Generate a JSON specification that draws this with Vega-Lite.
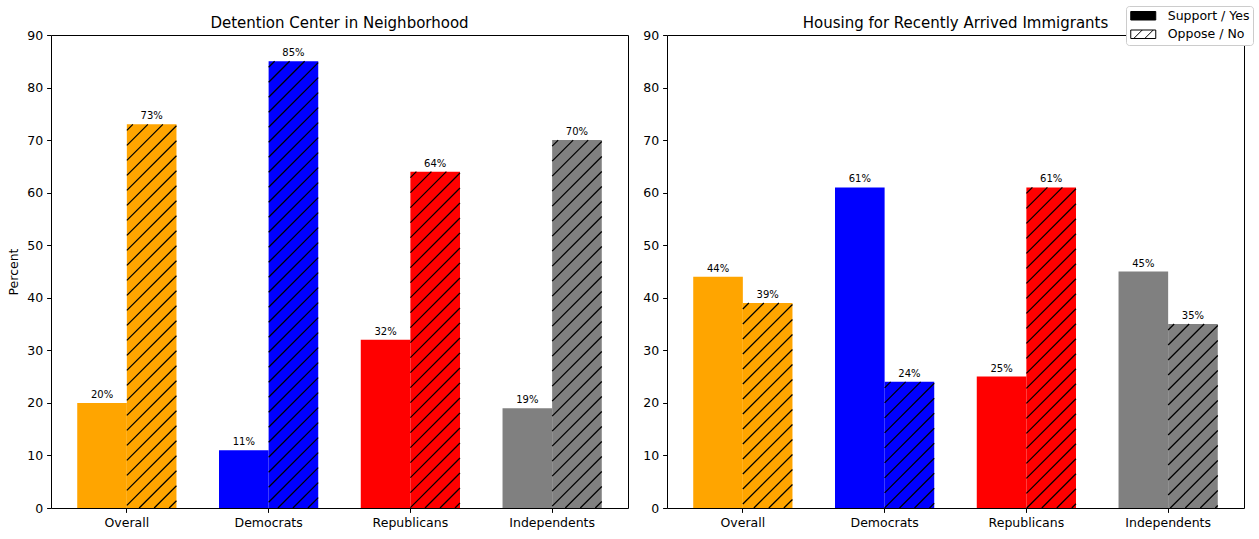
{
  "$schema": "https://vega.github.io/schema/vega-lite/v6.json",
  "autosize": {"type": "pad"},
  "padding": {"left": 7, "top": 5, "right": 6, "bottom": 9},
  "bounds": "flush",
  "spacing": 39,
  "data": {"values": [
    {"panel": "Detention Center in Neighborhood", "group": "Overall", "response": "Support / Yes", "value": 20},
    {"panel": "Detention Center in Neighborhood", "group": "Overall", "response": "Oppose / No", "value": 73},
    {"panel": "Detention Center in Neighborhood", "group": "Democrats", "response": "Support / Yes", "value": 11},
    {"panel": "Detention Center in Neighborhood", "group": "Democrats", "response": "Oppose / No", "value": 85},
    {"panel": "Detention Center in Neighborhood", "group": "Republicans", "response": "Support / Yes", "value": 32},
    {"panel": "Detention Center in Neighborhood", "group": "Republicans", "response": "Oppose / No", "value": 64},
    {"panel": "Detention Center in Neighborhood", "group": "Independents", "response": "Support / Yes", "value": 19},
    {"panel": "Detention Center in Neighborhood", "group": "Independents", "response": "Oppose / No", "value": 70},
    {"panel": "Housing for Recently Arrived Immigrants", "group": "Overall", "response": "Support / Yes", "value": 44},
    {"panel": "Housing for Recently Arrived Immigrants", "group": "Overall", "response": "Oppose / No", "value": 39},
    {"panel": "Housing for Recently Arrived Immigrants", "group": "Democrats", "response": "Support / Yes", "value": 61},
    {"panel": "Housing for Recently Arrived Immigrants", "group": "Democrats", "response": "Oppose / No", "value": 24},
    {"panel": "Housing for Recently Arrived Immigrants", "group": "Republicans", "response": "Support / Yes", "value": 25},
    {"panel": "Housing for Recently Arrived Immigrants", "group": "Republicans", "response": "Oppose / No", "value": 61},
    {"panel": "Housing for Recently Arrived Immigrants", "group": "Independents", "response": "Support / Yes", "value": 45},
    {"panel": "Housing for Recently Arrived Immigrants", "group": "Independents", "response": "Oppose / No", "value": 35}
  ]},
  "hconcat": [
    {
      "width": 577,
      "height": 473,
      "title": {"text": "Detention Center in Neighborhood"},
      "transform": [
        {"filter": "datum.panel === 'Detention Center in Neighborhood'"},
        {"calculate": "datum.value + '%'", "as": "label"}
      ],
      "encoding": {
        "x": {"field": "group", "type": "nominal", "sort": ["Overall", "Democrats", "Republicans", "Independents"], "scale": {"type": "band", "paddingInner": 0.3, "paddingOuter": 0.185}, "axis": {"title": null, "labelAngle": 0}},
        "xOffset": {"field": "response", "type": "nominal", "sort": ["Support / Yes", "Oppose / No"], "scale": {"paddingInner": 0, "paddingOuter": 0}},
        "y": {"field": "value", "type": "quantitative", "scale": {"domain": [0, 90], "nice": false}, "axis": {"title": "Percent", "values": [0, 10, 20, 30, 40, 50, 60, 70, 80, 90]}}
      },
      "layer": [
        {
          "mark": {"type": "bar"},
          "encoding": {
            "color": {"field": "group", "type": "nominal", "scale": {"domain": ["Overall", "Democrats", "Republicans", "Independents"], "range": ["#FFA500", "#0000FF", "#FF0000", "#808080"]}, "legend": null}
          }
        },
        {
          "transform": [{"filter": "datum.response === 'Oppose / No' && datum.group === 'Overall'"}],
          "mark": {"type": "point", "filled": false, "stroke": "black", "strokeWidth": 1.25, "opacity": 1, "size": 4, "shape": "M-24.8,6l6,-6M-24.8,21l21,-21M-24.8,36l36,-36M-24.8,51l49.6,-49.6M-24.8,66l49.6,-49.6M-24.8,81l49.6,-49.6M-24.8,96l49.6,-49.6M-24.8,111l49.6,-49.6M-24.8,126l49.6,-49.6M-24.8,141l49.6,-49.6M-24.8,156l49.6,-49.6M-24.8,171l49.6,-49.6M-24.8,186l49.6,-49.6M-24.8,201l49.6,-49.6M-24.8,216l49.6,-49.6M-24.8,231l49.6,-49.6M-24.8,246l49.6,-49.6M-24.8,261l49.6,-49.6M-24.8,276l49.6,-49.6M-24.8,291l49.6,-49.6M-24.8,306l49.6,-49.6M-24.8,321l49.6,-49.6M-24.8,336l49.6,-49.6M-24.8,351l49.6,-49.6M-24.8,366l49.6,-49.6M-24.8,381l49.6,-49.6M-12.5,383.7l37.3,-37.3M2.5,383.7l22.3,-22.3M17.5,383.7l7.3,-7.3"}
        },
        {
          "transform": [{"filter": "datum.response === 'Oppose / No' && datum.group === 'Democrats'"}],
          "mark": {"type": "point", "filled": false, "stroke": "black", "strokeWidth": 1.25, "opacity": 1, "size": 4, "shape": "M-24.8,6l6,-6M-24.8,21l21,-21M-24.8,36l36,-36M-24.8,51l49.6,-49.6M-24.8,66l49.6,-49.6M-24.8,81l49.6,-49.6M-24.8,96l49.6,-49.6M-24.8,111l49.6,-49.6M-24.8,126l49.6,-49.6M-24.8,141l49.6,-49.6M-24.8,156l49.6,-49.6M-24.8,171l49.6,-49.6M-24.8,186l49.6,-49.6M-24.8,201l49.6,-49.6M-24.8,216l49.6,-49.6M-24.8,231l49.6,-49.6M-24.8,246l49.6,-49.6M-24.8,261l49.6,-49.6M-24.8,276l49.6,-49.6M-24.8,291l49.6,-49.6M-24.8,306l49.6,-49.6M-24.8,321l49.6,-49.6M-24.8,336l49.6,-49.6M-24.8,351l49.6,-49.6M-24.8,366l49.6,-49.6M-24.8,381l49.6,-49.6M-24.8,396l49.6,-49.6M-24.8,411l49.6,-49.6M-24.8,426l49.6,-49.6M-24.8,441l49.6,-49.6M-15.5,446.7l40.3,-40.3M-0.5,446.7l25.3,-25.3M14.5,446.7l10.3,-10.3"}
        },
        {
          "transform": [{"filter": "datum.response === 'Oppose / No' && datum.group === 'Republicans'"}],
          "mark": {"type": "point", "filled": false, "stroke": "black", "strokeWidth": 1.25, "opacity": 1, "size": 4, "shape": "M-24.8,6l6,-6M-24.8,21l21,-21M-24.8,36l36,-36M-24.8,51l49.6,-49.6M-24.8,66l49.6,-49.6M-24.8,81l49.6,-49.6M-24.8,96l49.6,-49.6M-24.8,111l49.6,-49.6M-24.8,126l49.6,-49.6M-24.8,141l49.6,-49.6M-24.8,156l49.6,-49.6M-24.8,171l49.6,-49.6M-24.8,186l49.6,-49.6M-24.8,201l49.6,-49.6M-24.8,216l49.6,-49.6M-24.8,231l49.6,-49.6M-24.8,246l49.6,-49.6M-24.8,261l49.6,-49.6M-24.8,276l49.6,-49.6M-24.8,291l49.6,-49.6M-24.8,306l49.6,-49.6M-24.8,321l49.6,-49.6M-24.8,336l49.6,-49.6M-10.2,336.4l35,-35M4.8,336.4l20,-20M19.8,336.4l5,-5"}
        },
        {
          "transform": [{"filter": "datum.response === 'Oppose / No' && datum.group === 'Independents'"}],
          "mark": {"type": "point", "filled": false, "stroke": "black", "strokeWidth": 1.25, "opacity": 1, "size": 4, "shape": "M-24.8,6l6,-6M-24.8,21l21,-21M-24.8,36l36,-36M-24.8,51l49.6,-49.6M-24.8,66l49.6,-49.6M-24.8,81l49.6,-49.6M-24.8,96l49.6,-49.6M-24.8,111l49.6,-49.6M-24.8,126l49.6,-49.6M-24.8,141l49.6,-49.6M-24.8,156l49.6,-49.6M-24.8,171l49.6,-49.6M-24.8,186l49.6,-49.6M-24.8,201l49.6,-49.6M-24.8,216l49.6,-49.6M-24.8,231l49.6,-49.6M-24.8,246l49.6,-49.6M-24.8,261l49.6,-49.6M-24.8,276l49.6,-49.6M-24.8,291l49.6,-49.6M-24.8,306l49.6,-49.6M-24.8,321l49.6,-49.6M-24.8,336l49.6,-49.6M-24.8,351l49.6,-49.6M-24.8,366l49.6,-49.6M-11.7,367.9l36.5,-36.5M3.3,367.9l21.5,-21.5M18.3,367.9l6.5,-6.5"}
        },
        {
          "mark": {"type": "text", "baseline": "alphabetic", "align": "center", "dy": -5, "fontSize": 10, "color": "black"},
          "encoding": {"text": {"field": "label", "type": "nominal"}}
        }
      ]
    },
    {
      "width": 577,
      "height": 473,
      "title": {"text": "Housing for Recently Arrived Immigrants"},
      "transform": [
        {"filter": "datum.panel === 'Housing for Recently Arrived Immigrants'"},
        {"calculate": "datum.value + '%'", "as": "label"}
      ],
      "encoding": {
        "x": {"field": "group", "type": "nominal", "sort": ["Overall", "Democrats", "Republicans", "Independents"], "scale": {"type": "band", "paddingInner": 0.3, "paddingOuter": 0.185}, "axis": {"title": null, "labelAngle": 0}},
        "xOffset": {"field": "response", "type": "nominal", "sort": ["Support / Yes", "Oppose / No"], "scale": {"paddingInner": 0, "paddingOuter": 0}},
        "y": {"field": "value", "type": "quantitative", "scale": {"domain": [0, 90], "nice": false}, "axis": {"title": null, "values": [0, 10, 20, 30, 40, 50, 60, 70, 80, 90]}}
      },
      "layer": [
        {
          "mark": {"type": "bar"},
          "encoding": {
            "color": {"field": "group", "type": "nominal", "scale": {"domain": ["Overall", "Democrats", "Republicans", "Independents"], "range": ["#FFA500", "#0000FF", "#FF0000", "#808080"]}, "legend": null}
          }
        },
        {
          "transform": [{"filter": "datum.response === 'Oppose / No' && datum.group === 'Overall'"}],
          "mark": {"type": "point", "filled": false, "stroke": "black", "strokeWidth": 1.25, "opacity": 1, "size": 4, "shape": "M-24.8,6l6,-6M-24.8,21l21,-21M-24.8,36l36,-36M-24.8,51l49.6,-49.6M-24.8,66l49.6,-49.6M-24.8,81l49.6,-49.6M-24.8,96l49.6,-49.6M-24.8,111l49.6,-49.6M-24.8,126l49.6,-49.6M-24.8,141l49.6,-49.6M-24.8,156l49.6,-49.6M-24.8,171l49.6,-49.6M-24.8,186l49.6,-49.6M-24.8,201l49.6,-49.6M-13.8,205l38.6,-38.6M1.2,205l23.6,-23.6M16.2,205l8.6,-8.6"}
        },
        {
          "transform": [{"filter": "datum.response === 'Oppose / No' && datum.group === 'Democrats'"}],
          "mark": {"type": "point", "filled": false, "stroke": "black", "strokeWidth": 1.25, "opacity": 1, "size": 4, "shape": "M-24.8,6l6,-6M-24.8,21l21,-21M-24.8,36l36,-36M-24.8,51l49.6,-49.6M-24.8,66l49.6,-49.6M-24.8,81l49.6,-49.6M-24.8,96l49.6,-49.6M-24.8,111l49.6,-49.6M-24.8,126l49.6,-49.6M-9.9,126.1l34.7,-34.7M5.1,126.1l19.7,-19.7M20.1,126.1l4.7,-4.7"}
        },
        {
          "transform": [{"filter": "datum.response === 'Oppose / No' && datum.group === 'Republicans'"}],
          "mark": {"type": "point", "filled": false, "stroke": "black", "strokeWidth": 1.25, "opacity": 1, "size": 4, "shape": "M-24.8,6l6,-6M-24.8,21l21,-21M-24.8,36l36,-36M-24.8,51l49.6,-49.6M-24.8,66l49.6,-49.6M-24.8,81l49.6,-49.6M-24.8,96l49.6,-49.6M-24.8,111l49.6,-49.6M-24.8,126l49.6,-49.6M-24.8,141l49.6,-49.6M-24.8,156l49.6,-49.6M-24.8,171l49.6,-49.6M-24.8,186l49.6,-49.6M-24.8,201l49.6,-49.6M-24.8,216l49.6,-49.6M-24.8,231l49.6,-49.6M-24.8,246l49.6,-49.6M-24.8,261l49.6,-49.6M-24.8,276l49.6,-49.6M-24.8,291l49.6,-49.6M-24.8,306l49.6,-49.6M-24.4,320.6l49.2,-49.2M-9.4,320.6l34.2,-34.2M5.6,320.6l19.2,-19.2M20.6,320.6l4.2,-4.2"}
        },
        {
          "transform": [{"filter": "datum.response === 'Oppose / No' && datum.group === 'Independents'"}],
          "mark": {"type": "point", "filled": false, "stroke": "black", "strokeWidth": 1.25, "opacity": 1, "size": 4, "shape": "M-24.8,6l6,-6M-24.8,21l21,-21M-24.8,36l36,-36M-24.8,51l49.6,-49.6M-24.8,66l49.6,-49.6M-24.8,81l49.6,-49.6M-24.8,96l49.6,-49.6M-24.8,111l49.6,-49.6M-24.8,126l49.6,-49.6M-24.8,141l49.6,-49.6M-24.8,156l49.6,-49.6M-24.8,171l49.6,-49.6M-22.7,183.9l47.5,-47.5M-7.7,183.9l32.5,-32.5M7.3,183.9l17.5,-17.5M22.3,183.9l2.5,-2.5"}
        },
        {
          "mark": {"type": "text", "baseline": "alphabetic", "align": "center", "dy": -5, "fontSize": 10, "color": "black"},
          "encoding": {"text": {"field": "label", "type": "nominal"}}
        },
        {
          "transform": [{"filter": "false"}],
          "mark": {"type": "point", "filled": true, "stroke": "black", "strokeWidth": 1, "opacity": 1},
          "encoding": {
            "fill": {"field": "response", "type": "nominal", "scale": {"domain": ["Support / Yes", "Oppose / No"], "range": ["black", "white"]}, "legend": {"title": null, "orient": "none", "legendX": 1075, "legendY": -29, "encode": {"symbols": {"update": {"stroke": {"value": "black"}, "strokeWidth": {"value": 1}, "opacity": {"value": 1}}}}}},
            "shape": {"field": "response", "type": "nominal", "scale": {"domain": ["Support / Yes", "Oppose / No"], "range": ["M-1,-0.85H4V0.85H-1Z", "M-1,-0.85H4V0.85H-1ZM-0.4,0.85L1.3,-0.85M1.8,0.85L3.5,-0.85"]}, "legend": {"title": null, "orient": "none", "legendX": 1075, "legendY": -29, "encode": {"symbols": {"update": {"stroke": {"value": "black"}, "strokeWidth": {"value": 1}, "opacity": {"value": 1}}}}}}
          }
        }
      ]
    }
  ],
  "config": {
    "font": "DejaVu Sans",
    "view": {"stroke": "black", "strokeWidth": 1},
    "axis": {"domain": false, "grid": false, "ticks": true, "tickColor": "black", "tickWidth": 1, "tickSize": 4.4, "labelColor": "black", "labelFontSize": 12.5, "labelFont": "DejaVu Sans", "labelPadding": 4, "titleFont": "DejaVu Sans", "titleFontSize": 12.5, "titleFontWeight": "normal", "titleColor": "black", "titlePadding": 6},
    "title": {"font": "DejaVu Sans", "fontSize": 15, "fontWeight": "normal", "color": "black", "baseline": "alphabetic", "offset": 0, "dy": 6, "frame": "group", "anchor": "middle"},
    "legend": {"symbolSize": 100, "labelOffset": 25.7, "rowPadding": 5.5, "padding": 3.5, "fillColor": "white", "strokeColor": "#cccccc", "cornerRadius": 3, "labelFontSize": 12.5, "labelFont": "DejaVu Sans", "labelColor": "black", "symbolStrokeColor": "black", "symbolStrokeWidth": 1, "symbolOpacity": 1}
  }
}
